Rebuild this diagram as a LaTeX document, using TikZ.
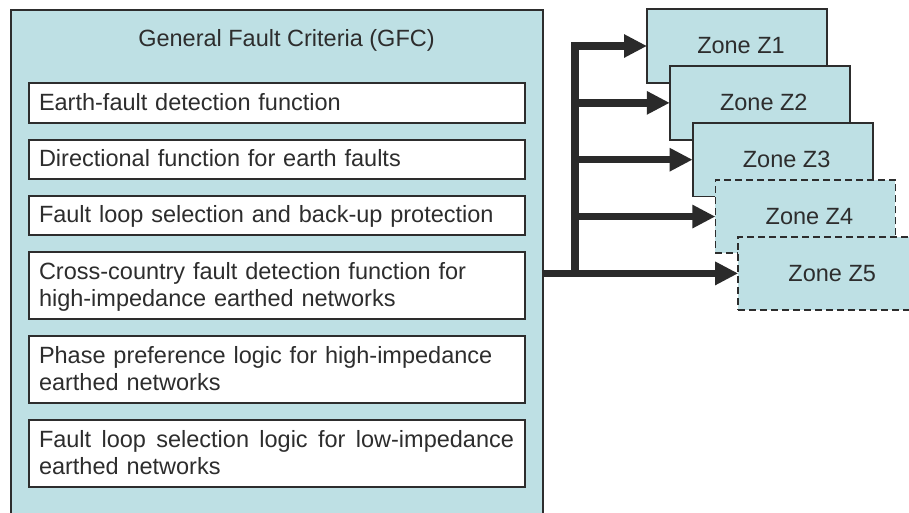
\documentclass[tikz,border=0pt]{standalone}
\usepackage{fontspec}
\setmainfont{Liberation Sans}
\usetikzlibrary{arrows.meta}
\definecolor{boxfill}{RGB}{190,224,228}
\definecolor{edgec}{RGB}{45,45,45}
\definecolor{arrowc}{RGB}{42,42,42}
\newcommand\mystrut{\rule[-6.75pt]{0pt}{27.5pt}}
\begin{document}
\begin{tikzpicture}[x=1pt,y=-1pt,
  txt/.style={font=\fontsize{23.5}{27.5}\selectfont, text=edgec},
  fbox/.style={draw=edgec, line width=1.8pt, fill=white, text width=476pt,
    inner xsep=10pt, inner ysep=0pt, align=left, anchor=north west,
    outer sep=0pt, txt},
  zone/.style={draw=edgec, line width=1.8pt, fill=boxfill, minimum width=180pt,
    minimum height=73.5pt, inner sep=0pt, outer sep=0pt, txt},
  dzone/.style={zone, dash pattern=on 7pt off 4pt},
  fatarrow/.style={draw=arrowc, line width=7.3pt,
    -{Triangle[length=23pt,width=22pt]}}
]
\useasboundingbox (0,0) rectangle (909,512);
\fill[white] (0,0) rectangle (909,512);

% outer frame
\node[draw=edgec, line width=1.8pt, fill=boxfill, minimum width=532.3pt,
  minimum height=506pt, anchor=north west, inner sep=0pt, outer sep=0pt]
  (gfc) at (10.7,10) {};
\node[txt, anchor=base] (title) at (286.5,46.7) {General Fault Criteria (GFC)};

% inner function boxes
\node[fbox, minimum height=39.4pt] (b1) at (29,83.3)
  {\mystrut Earth-fault detection function};
\node[fbox, minimum height=39.4pt] (b2) at (29,139.6)
  {\mystrut Directional function for earth faults};
\node[fbox, minimum height=39.4pt] (b3) at (29,195.9)
  {\mystrut Fault loop selection and back-up protection};
\node[fbox, minimum height=67pt] (b4) at (29,252.3)
  {\mystrut Cross-country fault detection function for\\high-impedance earthed networks\mystrut};
\node[fbox, minimum height=67pt] (b5) at (29,336.3)
  {\mystrut Phase preference logic for high-impedance\\earthed networks\mystrut};
\node[fbox, minimum height=67pt] (b6) at (29,420.3)
  {\mystrut\hbox to 475pt{Fault\hfill loop\hfill selection\hfill logic\hfill for\hfill low-impedance}\\earthed networks\mystrut};

% zones
\node[zone]  (Z1) at (737,46)       {\hspace*{8pt}Zone Z1};
\node[zone]  (Z2) at (759.8,102.85) {\hspace*{8pt}Zone Z2};
\node[zone]  (Z3) at (782.6,159.7)  {\hspace*{8pt}Zone Z3};
\node[dzone] (Z4) at (805.4,216.55) {\hspace*{8pt}Zone Z4};
\node[dzone] (Z5) at (828.2,273.4)  {\hspace*{8pt}Zone Z5};

% arrows
\coordinate (j) at (575,273.4);
\draw[fatarrow] (j -| gfc.east) -- (Z5.west);
\draw[fatarrow] (j) |- (Z1.west);
\draw[fatarrow] (j |- Z2.west) -- (Z2.west);
\draw[fatarrow] (j |- Z3.west) -- (Z3.west);
\draw[fatarrow] (j |- Z4.west) -- (Z4.west);
\end{tikzpicture}
\end{document}
